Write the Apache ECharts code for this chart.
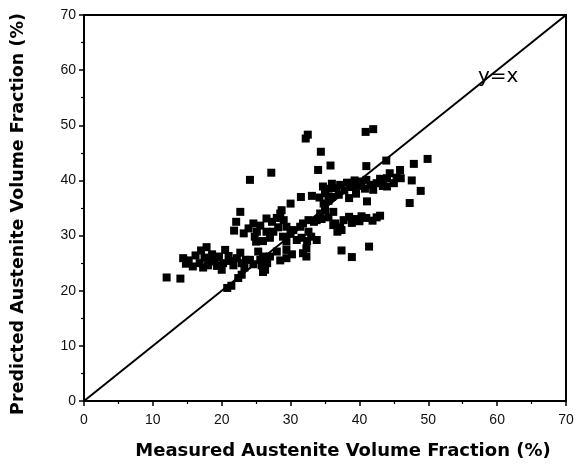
<!DOCTYPE html>
<html>
<head>
<meta charset="utf-8">
<script src="https://cdn.jsdelivr.net/npm/echarts@6/dist/echarts.min.js"></script>
<style>
  html, body { margin: 0; padding: 0; background: #fff; }
  #chart { width: 579px; height: 468px; }
</style>
</head>
<body>
<div id="chart"></div>
<script>
// Measured vs. predicted austenite volume fraction (%), one [measured, predicted] pair per sample
const lowCluster = [
  [14.4,25.9],[15.2,25.5],[14.8,24.9],[12.0,22.4],[14.0,22.2],
  [16.8,25.0],[17.3,24.2],[17.8,27.9],[17.5,26.0],[18.2,25.3],[18.6,26.6],[19.0,25.6],
  [19.3,24.5],[19.6,26.2],[20.0,23.8],[20.5,27.4],[20.2,25.0],[21.0,26.3],[21.2,25.4],
  [21.7,24.6],[22.2,25.9],[22.7,26.9],[22.9,25.0],[23.5,25.6],[24.1,25.6],[24.6,24.8],
  [25.3,27.1],[25.6,25.6],[26.0,26.2],[26.3,23.8],[26.0,23.4],[27.0,26.2],[28.0,27.1],
  [28.5,25.5],[29.4,25.9],[29.4,27.4],[30.2,26.6],[22.4,22.3],[22.9,22.9],[21.4,20.9],
  [20.8,20.5],[23.3,24.2],[18.0,24.6],[16.2,26.4],[17.0,27.3],[15.8,24.4],[25.8,24.6],
  [26.6,25.0],[31.8,26.8]
];
const midCluster = [
  [22.7,34.3],[22.1,32.5],[21.8,30.9],[23.9,31.3],[24.6,32.2],[25.1,30.7],[24.8,29.8],
  [25.6,31.8],[26.5,33.1],[26.5,30.7],[27.3,32.5],[27.5,30.7],[28.0,33.2],[28.5,34.0],
  [28.7,34.6],[28.2,31.5],[29.4,31.6],[29.0,32.8],[28.9,29.8],[29.4,28.9],[30.4,31.0],
  [30.9,29.2],[30.0,30.3],[31.4,31.6],[31.8,32.2],[32.6,32.8],[33.4,32.5],[33.8,32.8],
  [32.6,30.7],[33.0,29.8],[33.8,29.2],[32.3,27.7],[32.3,26.2],[31.6,29.6],[34.3,34.0],
  [35.0,34.6],[36.2,34.3],[34.8,35.8],[34.5,33.0],[35.5,33.3],[36.2,31.9],[36.8,30.7],
  [37.2,31.5],[30.0,35.8],[31.5,37.0],[33.1,37.2],[27.0,29.6],[26.0,29.0],[23.2,30.4],
  [25.0,28.9],[32.4,29.0]
];
const lowerBand = [
  [37.7,32.8],[38.5,33.4],[38.9,32.3],[39.6,33.0],[40.3,33.5],[41.0,33.2],[41.9,32.7],
  [42.5,33.3],[43.0,33.6],[37.4,31.0],[40.0,32.6],[36.5,32.2]
];
const upperBand = [
  [34.7,38.9],[35.0,37.7],[35.5,38.5],[36.0,39.4],[36.6,38.6],[37.2,39.2],[37.8,38.2],
  [38.2,39.6],[38.8,38.8],[39.3,40.0],[39.8,39.0],[40.3,39.8],[40.8,38.5],[41.0,40.1],
  [41.6,39.2],[42.0,38.3],[42.5,39.5],[43.0,40.3],[43.4,39.0],[44.0,40.4],[44.0,38.9],
  [44.4,41.3],[45.4,40.5],[45.9,41.9],[46.0,40.4],[45.0,39.5],[37.0,37.4],[39.5,37.6],
  [36.0,37.0],[34.2,36.9],[35.5,36.3],[38.5,36.8]
];
const scattered = [
  [37.4,27.3],[38.9,26.1],[41.4,28.0],[24.1,40.1],[27.2,41.4],[34.0,41.9],[35.8,42.7],
  [34.4,45.2],[32.2,47.6],[32.5,48.3],[40.9,48.8],[42.0,49.3],[41.0,42.6],[43.9,43.6],
  [47.9,43.0],[49.9,43.9],[47.6,40.0],[48.9,38.1],[47.3,35.9],[41.1,36.2]
];
const samples = [].concat(lowCluster, midCluster, lowerBand, upperBand, scattered);
const identityLine = [[0, 0], [70, 70]];
const axisTicks = { min: 0, max: 70, interval: 10 };

const chart = echarts.init(document.getElementById('chart'), null, { renderer: 'canvas' });

const axisCommon = {
  type: 'value',
  min: axisTicks.min,
  max: axisTicks.max,
  interval: axisTicks.interval,
  axisLine: { show: true, onZero: false, lineStyle: { color: '#000', width: 2 } },
  axisTick: { show: true, inside: false, length: 5, lineStyle: { color: '#000', width: 1.5 } },
  minorTick: { show: true, splitNumber: 2, length: 3, lineStyle: { color: '#000', width: 1.2 } },
  splitLine: { show: false },
  axisLabel: { color: '#111', fontFamily: 'Liberation Sans, Arial, sans-serif', fontSize: 14 },
  nameLocation: 'middle'
};

const titleFont = { color: '#000', fontFamily: 'DejaVu Sans, sans-serif', fontWeight: 'bold' };

chart.setOption({
  backgroundColor: '#fff',
  animation: false,
  grid: {
    left: 84, right: 13, top: 15, bottom: 67,
    show: true, borderColor: '#000', borderWidth: 2, backgroundColor: 'transparent'
  },
  xAxis: Object.assign({}, axisCommon, {
    name: 'Measured Austenite Volume Fraction (%)',
    nameGap: 41,
    nameTextStyle: Object.assign({ fontSize: 18, padding: [0, 0, 0, 36] }, titleFont),
    axisLabel: Object.assign({}, axisCommon.axisLabel, { margin: 12 })
  }),
  yAxis: Object.assign({}, axisCommon, {
    name: 'Predicted Austenite Volume Fraction (%)',
    nameGap: 57,
    nameTextStyle: Object.assign({ fontSize: 17.5, padding: [0, 12, 0, 0] }, titleFont),
    axisLabel: Object.assign({}, axisCommon.axisLabel, { margin: 8 })
  }),
  graphic: [{
    type: 'text',
    left: 478,
    top: 67,
    style: {
      text: 'y=x',
      fill: '#000',
      font: '20px "DejaVu Sans", sans-serif'
    }
  }],
  series: [
    {
      type: 'line',
      data: identityLine,
      symbol: 'none',
      lineStyle: { color: '#000', width: 2 },
      z: 1
    },
    {
      type: 'scatter',
      data: samples,
      symbol: 'rect',
      symbolSize: 8,
      itemStyle: { color: '#000', opacity: 1 },
      z: 2
    }
  ]
});
</script>
</body>
</html>
